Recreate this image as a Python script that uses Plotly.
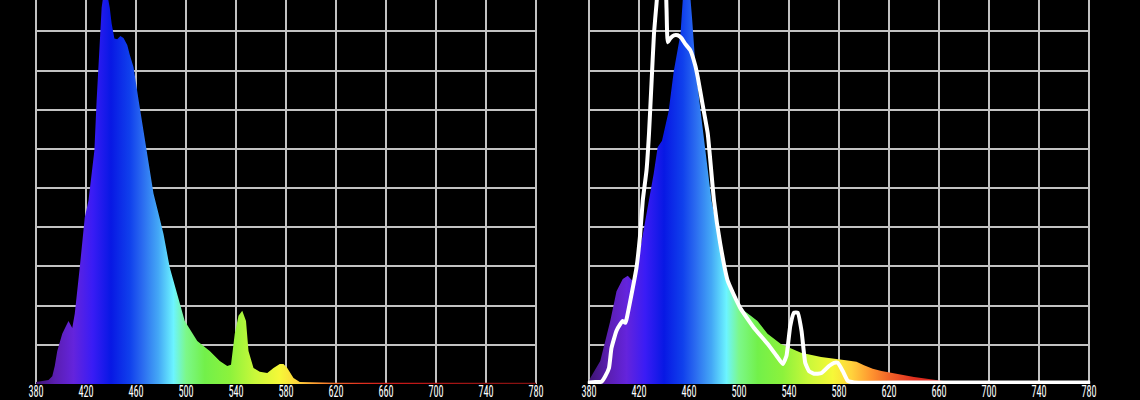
import plotly.graph_objects as go

# ---------------- data ----------------
# Left panel: spectrum (nm -> relative intensity, grid units x10)
wl_left = [380, 385, 390, 393, 395, 397, 401, 404, 406, 409, 411, 415, 419, 422, 423,
           425, 426.7, 428.5, 430.6, 432.5, 434, 435.5, 437, 439, 440.5, 442.7, 445,
           447.5, 450, 453, 455, 458, 462, 466, 470, 474, 478, 482, 487, 493, 499,
           509, 519, 527, 533, 536, 539, 542, 545, 548, 550, 554, 559, 565, 570, 575,
           578, 581, 586, 591, 600, 620, 660, 700, 740, 780]
val_left = [0.5, 0.8, 1.0, 2.0, 4.6, 8.4, 12.8, 14.8, 16.1, 14.3, 17.9, 29.7, 42.5, 46.8, 49.4,
            56.0, 59.6, 72.4, 85.2, 96.0, 99.5, 101.0, 99.5, 96.0, 92.0, 88.2, 88.0,
            88.8, 88.3, 86.5, 84.0, 80.9, 72.6, 64.2, 55.8, 48.6, 43.5, 38.3, 29.7, 22.6, 16.1,
            11.0, 8.4, 5.9, 4.6, 4.9, 12.8, 17.4, 18.7, 16.1, 8.4, 4.1, 3.1, 2.8, 4.1, 5.1,
            5.1, 4.1, 1.5, 0.5, 0.4, 0.35, 0.35, 0.35, 0.35, 0.35]

# Right panel: filled spectrum
wl_right = [380, 381, 389, 397, 402, 407, 411, 415, 420, 425, 428, 431.7, 434.9, 438.4,
            443.7, 447.8, 453.2, 455, 456.5, 460.5, 462.6, 465.2, 469.2, 473.2, 478,
            481.3, 484, 488, 493.3, 498.7, 504, 509.4, 514.8, 522.8, 533.5, 549.6, 565.7,
            587, 594, 600, 607, 614, 622, 640, 662, 675, 700, 780]
val_right = [0.5, 1.5, 5.9, 16.1, 23.7, 26.8, 27.6, 26.3, 32.7, 41.7, 46.8, 53.6, 60.4, 62.1,
             69.6, 79.8, 89.4, 98.0, 101.0, 101.0, 92.8, 80.9, 69.8, 59.6, 46.8,
             41.7, 38.4, 29.7, 24.6, 21.2, 18.7, 17.4, 16.1, 12.8, 10.2, 8.0, 6.9,
             6.0, 5.7, 4.8, 3.9, 3.3, 2.8, 1.8, 0.8, 0.1, 0.0, 0.0]

# Right panel: white reference curve
wl_curve = [380, 385, 390, 393, 396, 398, 402, 405, 407, 409, 410, 413, 418, 421, 423,
            426, 428, 430, 432, 434, 435.5, 441, 442, 443, 445, 448, 451, 454, 457, 461,
            465, 467, 471, 475, 480, 485, 491, 501, 512, 523, 530, 535, 538, 541, 544,
            547, 550, 553, 556, 560, 566, 572, 576, 579, 583, 587, 592, 640, 700, 780]
val_curve = [0.4, 0.5, 0.6, 2.0, 4.1, 9.2, 13.6, 15.3, 16.1, 15.6, 16.5, 21.2, 29.7, 38.4, 46.8,
             54.5, 63.9, 76.7, 89.5, 97.0, 101.0, 101.0, 96.0, 87.2, 88.2, 89.0, 89.0, 88.3, 86.8, 85.2,
             81.3, 78.3, 71.1, 63.9, 46.8, 35.8, 26.3, 19.4, 14.3, 10.2, 7.2, 5.1, 7.2, 14.8, 18.2,
             18.2, 13.6, 5.4, 3.3, 2.6, 2.8, 4.6, 5.4, 5.4, 3.3, 0.8, 0.4, 0.4, 0.4, 0.4]

x_ticks = [380, 420, 460, 500, 540, 580, 620, 660, 700, 740, 780]
y_grid = [10, 20, 30, 40, 50, 60, 70, 80, 90]

# visible-spectrum colour stops (nm -> colour)
spectrum_nm = [380, 395, 410, 425, 440, 455, 465, 478, 490, 500, 515, 535, 555, 575,
               590, 605, 620, 640, 670, 720, 780]
spectrum_hex = ['#3c1470', '#5a1eb0', '#6424dc', '#3a1cf5', '#0818e4', '#1040ec', '#2a6af0',
                '#44a8f6', '#6cf4ff', '#7cf88a', '#72f04a', '#8cf23c', '#c8f83a', '#f6f838',
                '#ffd23c', '#ff9830', '#f26428', '#e03020', '#c81818', '#a01414', '#801010']

# ---------------- figure ----------------
W, H = 1140, 400
PX_PER_NM = 1.25
PAD = 1.0                       # nm of padding so edge gridlines are drawn
wl_min, wl_max = x_ticks[0], x_ticks[-1]
colorscale = [[(w - wl_min) / (wl_max - wl_min), c] for w, c in zip(spectrum_nm, spectrum_hex)]
grad = dict(type='horizontal', colorscale=colorscale, start=wl_min, stop=wl_max)


def domain(left_px):
    a = left_px - PAD * PX_PER_NM
    b = left_px + (wl_max - wl_min + PAD) * PX_PER_NM
    return [a / W, b / W]


fig = go.Figure()
fig.add_trace(go.Scatter(x=wl_left, y=val_left, mode='lines', fill='tozeroy',
                         fillgradient=grad, line=dict(width=0, color='rgba(0,0,0,0)'),
                         hoverinfo='skip', xaxis='x', yaxis='y'))
fig.add_trace(go.Scatter(x=wl_right, y=val_right, mode='lines', fill='tozeroy',
                         fillgradient=grad, line=dict(width=0, color='rgba(0,0,0,0)'),
                         hoverinfo='skip', xaxis='x2', yaxis='y2'))
fig.add_trace(go.Scatter(x=wl_curve, y=val_curve, mode='lines',
                         line=dict(width=4, color='white', shape='spline', smoothing=0.4),
                         hoverinfo='skip', xaxis='x2', yaxis='y2'))

grid_col = '#c2c2c2'
xcommon = dict(range=[wl_min - PAD, wl_max + PAD], tickvals=x_ticks, showgrid=True,
               gridcolor=grid_col, gridwidth=1.5, zeroline=False, showline=False, ticks='',
               automargin=False, ticklabelstandoff=-4,
               tickfont=dict(color='white', size=16,
                             family='Liberation Sans Narrow, Roboto Condensed, Liberation Sans, Arial, sans-serif'))
ycommon = dict(range=[0, 98], tickvals=y_grid, showgrid=True, gridcolor=grid_col, gridwidth=1.5,
               zeroline=False, showline=False, showticklabels=False, ticks='', automargin=False)

fig.update_layout(
    width=W, height=H, autosize=False,
    paper_bgcolor='black', plot_bgcolor='black',
    margin=dict(l=0, r=0, t=0, b=16, pad=0),
    showlegend=False,
    xaxis=dict(domain=domain(36), anchor='y', **xcommon),
    yaxis=dict(domain=[0, 1], anchor='x', **ycommon),
    xaxis2=dict(domain=domain(589), anchor='y2', **xcommon),
    yaxis2=dict(domain=[0, 1], anchor='x2', **ycommon),
)

post = """
var gd = document.getElementById('{plot_id}');
document.documentElement.style.margin = '0';
document.body.style.margin = '0';
document.body.style.overflow = 'hidden';
document.body.style.background = 'black';
function finish() {
  gd.querySelectorAll('.xtick text, .x2tick text').forEach(function (t) {
    var w = t.getComputedTextLength();
    t.setAttribute('textLength', (w * 0.64).toFixed(1));
    t.setAttribute('lengthAdjust', 'spacingAndGlyphs');
  });
  gd.querySelectorAll('.scatterlayer path.js-line').forEach(function (p) {
    p.style.strokeLinecap = 'round';
  });
}
Plotly.relayout(gd, {width: 1140, height: 400}).then(finish);
"""

fig.write_html("out.html", config={'responsive': False, 'displayModeBar': False}, post_script=post)
